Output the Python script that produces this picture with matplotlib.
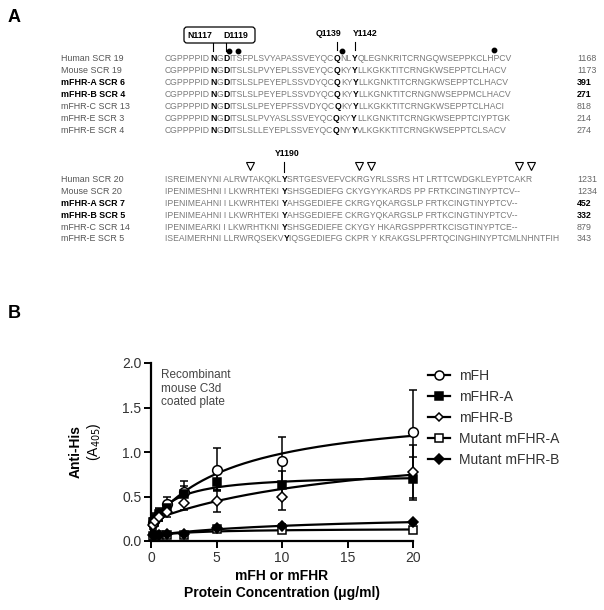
import re
import numpy as np
import matplotlib
matplotlib.use("Agg")
import matplotlib.pyplot as plt
from matplotlib.patches import FancyBboxPatch
from matplotlib.font_manager import FontProperties

plt.rcParams['font.family'] = ['Liberation Sans', 'DejaVu Sans']

# ---------------- panel A data (bold residues in [ ]) ----------------
names_19 = ['Human SCR 19', 'Mouse SCR 19', 'mFHR-A SCR 6', 'mFHR-B SCR 4',
            'mFHR-C SCR 13', 'mFHR-E SCR 3', 'mFHR-E SCR 4']
seqs_19 = ['CGPPPPID[N]G[D]ITSFPLSVYAPASSVEYQC[Q]NL[Y]QLEGNKRITCRNGQWSEPPKCLHPCV',
           'CGPPPPID[N]G[D]ITSLSLPVYEPLSSVEYQC[Q]KY[Y]LLKGKKTITCRNGKWSEPPTCLHACV',
           'CGPPPPID[N]G[D]ITSLSLPEYEPLSSVDYQC[Q]KY[Y]LLKGNKTITCRNGKWSEPPTCLHACV',
           'CGPPPPID[N]G[D]ITSLSLPEYEPLSSVDYQC[Q]KY[Y]LLKGNKTITCRNGNWSEPPMCLHACV',
           'CGPPPPID[N]G[D]ITSLSLPEYEPFSSVDYQC[Q]KY[Y]LLKGKKTITCRNGKWSEPPTCLHACI',
           'CGPPPPID[N]G[D]ITSLSLPVYASLSSVEYQC[Q]KY[Y]LLKGNKTITCRNGKWSEPPTCIYPTGK',
           'CGPPPPID[N]G[D]ITSLSLLEYEPLSSVEYQC[Q]NY[Y]VLKGKKTITCRNGKWSEPPTCLSACV']
ends_19 = ['1168', '1173', '391', '271', '818', '214', '274']

names_20 = ['Human SCR 20', 'Mouse SCR 20', 'mFHR-A SCR 7', 'mFHR-B SCR 5',
            'mFHR-C SCR 14', 'mFHR-E SCR 5']
seqs_20 = ['ISREIMENYNI ALRWTAKQKL[Y]SRTGESVEFVCKRGYRLSSRS HT LRTTCWDGKLEYPTCAKR',
           'IPENIMESHNI I LKWRHTEKI [Y]SHSGEDIEFG CKYGYYKARDS PP FRTKCINGTINYPTCV--',
           'IPENIMEAHNI I LKWRHTEKI [Y]AHSGEDIEFE CKRGYQKARGSLP FRTKCINGTINYPTCV--',
           'IPENIMEAHNI I LKWRHTEKI [Y]AHSGEDIEFE CKRGYQKARGSLP FRTKCINGTINYPTCV--',
           'IPENIMEARKI I LKWRHTKNI [Y]SHSGEDIEFE CKYGY HKARGSPPFRTKCISGTINYPTCE--',
           'ISEAIMERHNI LLRWRQSEKV[Y]IQSGEDIEFG CKPR Y KRAKGSLPFRTQCINGHINYPTCMLNHNTFIH']
ends_20 = ['1231', '1234', '452', '332', '879', '343']

bold_names = ['mFHR-A SCR 6', 'mFHR-B SCR 4', 'mFHR-A SCR 7', 'mFHR-B SCR 5']

# ---------------- panel B data ----------------
conc = [0.156, 0.3125, 0.625, 1.25, 2.5, 5, 10, 20]
mfh = [0.20, 0.25, 0.30, 0.42, 0.55, 0.80, 0.90, 1.22]
mfh_err = [0.04, 0.05, 0.07, 0.08, 0.12, 0.24, 0.27, 0.48]
mfhr_a = [0.21, 0.25, 0.30, 0.37, 0.53, 0.66, 0.63, 0.70]
mfhr_a_err = [0.05, 0.06, 0.06, 0.07, 0.09, 0.09, 0.16, 0.24]
mfhr_b = [0.18, 0.22, 0.27, 0.33, 0.43, 0.45, 0.50, 0.78]
mfhr_b_err = [0.04, 0.05, 0.05, 0.06, 0.08, 0.12, 0.15, 0.30]
mut_a = [0.06, 0.06, 0.07, 0.07, 0.07, 0.14, 0.12, 0.12]
mut_a_err = [0.01, 0.01, 0.01, 0.01, 0.02, 0.02, 0.02, 0.02]
mut_b = [0.07, 0.07, 0.07, 0.08, 0.08, 0.15, 0.17, 0.21]
mut_b_err = [0.01, 0.01, 0.01, 0.01, 0.02, 0.02, 0.02, 0.02]

fig = plt.figure(figsize=(6.04, 6.10), dpi=100)
renderer = fig.canvas.get_renderer()

ov = fig.add_axes([0, 0, 1, 1])
ov.set_xlim(0, 604)
ov.set_ylim(610, 0)
ov.axis('off')

SEQ_SIZE = 6.2
SEQ_GRAY = '#7a7a7a'


def advance(s, prop):
    # width incl. trailing spaces
    w1 = renderer.get_text_width_height_descent(s + '|', prop, ismath=False)[0]
    w2 = renderer.get_text_width_height_descent('|', prop, ismath=False)[0]
    return w1 - w2


def draw_seq(x, y, text):
    centres = []
    for p in re.split(r'(\[[^\]]+\])', text):
        if not p:
            continue
        bold = p.startswith('[')
        s = p.strip('[]')
        prop = FontProperties(family=['Liberation Sans'], size=SEQ_SIZE,
                              weight='bold' if bold else 'normal')
        ov.text(x, y, s, fontproperties=prop, color='black' if bold else SEQ_GRAY,
                va='center', ha='left')
        w = advance(s, prop)
        if bold:
            centres.append(x + w / 2)
        x += w
    return centres


def draw_block(names, seqs, ends, y0, step):
    first = None
    for i, (n, s, e) in enumerate(zip(names, seqs, ends)):
        y = y0 + i * step
        b = n in bold_names
        ov.text(61, y, n, fontsize=6.4, color='black' if b else '#555555',
                fontweight='bold' if b else 'normal', va='center', ha='left')
        c = draw_seq(165, y, s)
        ov.text(577, y, e, fontsize=6.4, color='black' if b else '#666666',
                fontweight='bold' if b else 'normal', va='center', ha='left')
        if i == 0:
            first = c
    return first


ov.text(8, 18, 'A', fontsize=13, fontweight='bold', va='center', ha='left')
ov.text(8, 313, 'B', fontsize=13, fontweight='bold', va='center', ha='left')

c19 = draw_block(names_19, seqs_19, ends_19, 58.5, 12.0)
c20 = draw_block(names_20, seqs_20, ends_20, 180, 11.75)

# residue annotations, block 1
ov.add_patch(FancyBboxPatch((184, 27), 71, 16, boxstyle='round,pad=0,rounding_size=3',
                            fc='none', ec='black', lw=0.9))
ov.text(200, 35.5, 'N1117', fontsize=6.3, fontweight='bold', ha='center', va='center')
ov.text(236, 35.5, 'D1119', fontsize=6.3, fontweight='bold', ha='center', va='center')
ov.text(328, 33.5, 'Q1139', fontsize=6.3, fontweight='bold', ha='center', va='center')
ov.text(365, 33.5, 'Y1142', fontsize=6.3, fontweight='bold', ha='center', va='center')
for cx in c19[:2]:
    ov.plot([cx, cx], [43, 51], color='black', lw=0.8)
for cx in c19[2:]:
    ov.plot([cx, cx], [41.5, 50], color='black', lw=0.8)
ov.plot([229, 238.3, 341.7, 494.3], [51, 50.5, 50.5, 50], 'o', color='black', ms=3.2)

# residue annotations, block 2
ov.text(c20[0] + 3, 153, 'Y1190', fontsize=6.3, fontweight='bold', ha='center', va='center')
ov.plot([c20[0], c20[0]], [161.5, 171.5], color='black', lw=0.8)
ov.plot([250, 358.8, 371.3, 519.2, 530.8], [166, 165.5, 165.5, 165.5, 165.5], 'v',
        mfc='white', mec='black', mew=0.8, ms=6)

# ---------------- panel B ----------------
def fit_binding(x, y):
    x = np.asarray(x, float)
    y = np.asarray(y, float)
    best = None
    for kd in np.logspace(-2, 3, 500):
        A = np.column_stack([np.ones_like(x), x / (kd + x)])
        coef = np.linalg.lstsq(A, y, rcond=None)[0]
        err = np.sum((A @ coef - y) ** 2)
        if best is None or err < best[0]:
            best = (err, kd, coef)
    return best[1], best[2]


ax = fig.add_axes([151 / 604, 69 / 610, 262 / 604, 178 / 610])
series = [('mFH', mfh, mfh_err, 'o', 'white', 7),
          ('mFHR-A', mfhr_a, mfhr_a_err, 's', 'black', 6),
          ('mFHR-B', mfhr_b, mfhr_b_err, 'D', 'white', 5),
          ('Mutant mFHR-A', mut_a, mut_a_err, 's', 'white', 6),
          ('Mutant mFHR-B', mut_b, mut_b_err, 'D', 'black', 5.5)]
xs = np.linspace(min(conc), max(conc), 300)
handles = []
for name, y, e, m, fc, ms in series:
    kd, (y0, bmax) = fit_binding(conc, y)
    ax.plot(xs, y0 + bmax * xs / (kd + xs), color='black', lw=1.6, clip_on=False, zorder=2)
    ax.errorbar(conc, y, yerr=e, fmt='none', ecolor='black', elinewidth=1.1,
                capsize=3, capthick=1.1, clip_on=False, zorder=3)
    ax.plot(conc, y, m, mfc=fc, mec='black', mew=1.1, ms=ms, clip_on=False, zorder=4)
    h, = ax.plot([], [], '-', marker=m, color='black', lw=1.6, mfc=fc, mec='black',
                 mew=1.1, ms=ms - 0.5)
    handles.append(h)

ax.set_xlim(0, 20)
ax.set_ylim(0, 2.0)
ax.set_xticks([0, 5, 10, 15, 20])
ax.set_yticks([0, 0.5, 1.0, 1.5, 2.0])
ax.set_yticklabels(['0.0', '0.5', '1.0', '1.5', '2.0'])
for s in ['top', 'right']:
    ax.spines[s].set_visible(False)
for s in ['left', 'bottom']:
    ax.spines[s].set_linewidth(1.6)
ax.tick_params(width=1.4, length=5, labelsize=10, labelcolor='#333333', pad=2)
ax.patch.set_visible(False)

ax.text(0.8, 1.93, 'Recombinant\nmouse C3d\ncoated plate', fontsize=8.5, color='#444444',
        va='top', ha='left', linespacing=1.15)

ov.text(76, 451, 'Anti-His', fontsize=10, fontweight='bold', rotation=90, ha='center', va='center')
ov.text(94, 442, '(A$_{405}$)', fontsize=10, rotation=90, ha='center', va='center')
ov.text(282, 576, 'mFH or mFHR', fontsize=10, fontweight='bold', ha='center', va='center')
ov.text(282, 593, 'Protein Concentration (\u03bcg/ml)', fontsize=10, fontweight='bold',
        ha='center', va='center')

fig.legend(handles, [s[0] for s in series], loc='upper left',
           bbox_to_anchor=(428 / 604, 1 - 369 / 610), bbox_transform=fig.transFigure,
           frameon=False, fontsize=10, handlelength=1.6, handletextpad=0.6,
           labelspacing=0.5, borderpad=0, borderaxespad=0, labelcolor='#333333')

fig.savefig('out.png', dpi=100)
